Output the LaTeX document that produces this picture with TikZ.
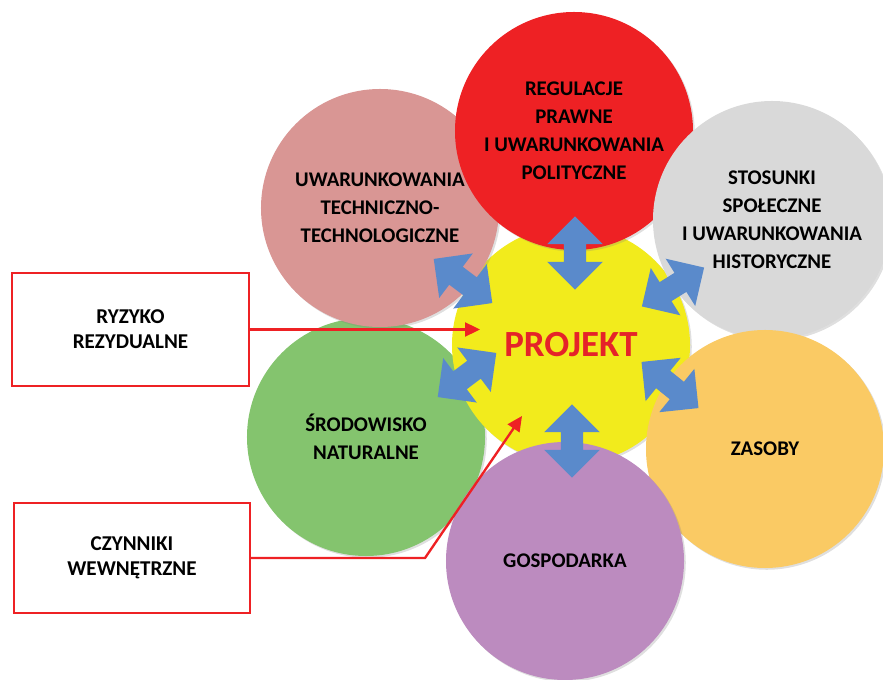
\documentclass[tikz,border=0pt]{standalone}
\usepackage{fontspec}
\setmainfont{Carlito}
\usetikzlibrary{arrows.meta,shapes.arrows,shadows}
\definecolor{yellowbg}{HTML}{F2EB1C}
\definecolor{redbg}{HTML}{EE2124}
\definecolor{pinkbg}{HTML}{D99694}
\definecolor{greybg}{HTML}{D9D9D9}
\definecolor{greenbg}{HTML}{84C46E}
\definecolor{orangebg}{HTML}{FACA64}
\definecolor{purplebg}{HTML}{BC8BBF}
\definecolor{arrowblue}{HTML}{5A8ACB}
\definecolor{boxred}{HTML}{EE2124}
\definecolor{titlered}{HTML}{E52329}
\tikzset{
  factor/.style={circle,minimum size=7.14cm,inner sep=0pt,align=center,font=\bfseries\fontsize{17.8}{23.9}\selectfont,drop shadow={shadow xshift=1.5pt,shadow yshift=-1.5pt,opacity=0.25}},
  link/.style={double arrow,fill=arrowblue,minimum height=2.2cm,inner xsep=0pt,inner ysep=0.33cm,double arrow head extend=0.5cm},
  riskbox/.style={draw=boxred,line width=2pt,fill=white,align=center,inner sep=0pt,font=\bfseries\fontsize{18}{21.3}\selectfont},
  pointer/.style={boxred,line width=2pt,-{Triangle[length=0.45cm,width=0.42cm]}}
}
\begin{document}
\begin{tikzpicture}[x=0.03cm,y=-0.03cm]
\useasboundingbox (0,0) rectangle (883,680);
% outer circles and the project
\node[factor,fill=greenbg] (srodowisko) at (366,437) {ŚRODOWISKO\\NATURALNE};
\node[factor,fill=yellowbg,font=\bfseries\fontsize{31.5}{36}\selectfont,text=titlered] (projekt) at (571,345) {PROJEKT};
\node[factor,fill=pinkbg] (techniczne) at (380,208) {UWARUNKOWANIA\\TECHNICZNO-\\TECHNOLOGICZNE};
\node[factor,fill=redbg] (regulacje) at (574,131) {REGULACJE\\PRAWNE\\I UWARUNKOWANIA\\POLITYCZNE};
\node[factor,fill=greybg] (stosunki) at (772,220) {STOSUNKI\\SPOŁECZNE\\I UWARUNKOWANIA\\HISTORYCZNE};
\node[factor,fill=orangebg] (zasoby) at (765,449) {ZASOBY};
\node[factor,fill=purplebg] (gospodarka) at (565,561) {GOSPODARKA};
% blue double arrows
\foreach \x/\y/\a [count=\i] in {575/253/90,572/441/90,463/281/-37,467/375/37,673/287/32,670/385/-39}{\node[link,rotate=\a] (link\i) at (\x,\y) {};}
% risk boxes
\node[riskbox,minimum width=7.11cm,minimum height=3.39cm] (ryzyko) at (130.5,329.5) {RYZYKO\\REZYDUALNE};
\node[riskbox,minimum width=7.08cm,minimum height=3.3cm] (czynniki) at (132,558) {CZYNNIKI\\WEWNĘTRZNE};
\coordinate (ryzykotip) at (480,329.5);
\coordinate (czynnikibend) at (425,558);
\coordinate (czynnikitip) at (522,416);
\draw[pointer] (ryzyko.east) -- (ryzykotip);
\draw[pointer] (czynniki.east) -- (czynnikibend) -- (czynnikitip);
\end{tikzpicture}
\end{document}
